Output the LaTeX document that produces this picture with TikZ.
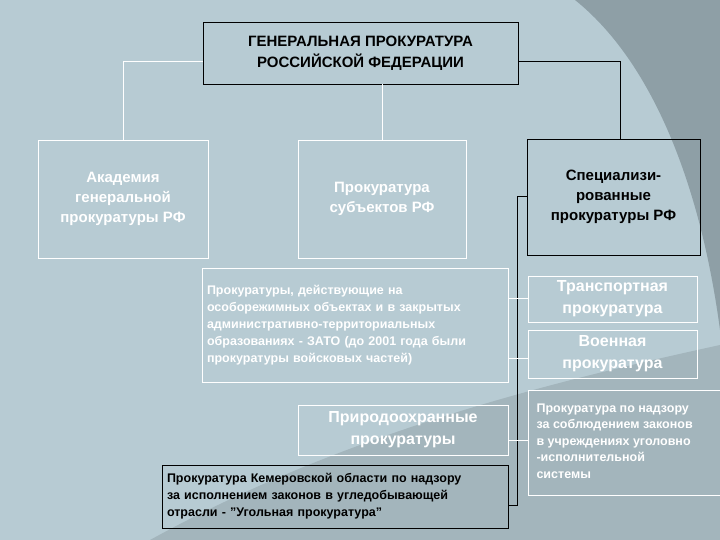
\documentclass[tikz,border=0pt]{standalone}
\usepackage{fontspec}
\setmainfont{Liberation Sans}
\begin{document}
\begin{tikzpicture}[x=1pt,y=-1pt,
  wbox/.style={draw=white,line width=0.8pt,text=white,align=center,inner sep=0pt},
  bbox/.style={draw=black,line width=0.8pt,text=black,align=center,inner sep=0pt},
  wline/.style={draw=white,line width=0.8pt},
  bline/.style={draw=black,line width=0.8pt}]
\definecolor{bgA}{HTML}{B7CBD3}
\definecolor{bgB}{HTML}{8E9FA6}
\definecolor{bgC}{HTML}{A3B5BC}
\fill[bgA] (0,0) rectangle (720,540);
\fill[bgC] (150,540) .. controls (350,430) and (560,380) .. (720,345) -- (720,540) -- cycle;
\fill[bgB] (575,0) .. controls (650,60) and (700,180) .. (720,330) -- (720,0) -- cycle;
\useasboundingbox (0,0) rectangle (720,540);

\node[bbox,minimum width=315pt,minimum height=62pt,font=\bfseries\fontsize{15}{21}\selectfont] (top) at (360.5,53) {ГЕНЕРАЛЬНАЯ ПРОКУРАТУРА\\РОССИЙСКОЙ ФЕДЕРАЦИИ};
\node[wbox,minimum width=170pt,minimum height=118pt,font=\bfseries\fontsize{15}{20}\selectfont] (acad) at (123,199) {Академия\\генеральной\\прокуратуры РФ};
\node[wbox,minimum width=168pt,minimum height=118pt,font=\bfseries\fontsize{15}{20}\selectfont] (subj) at (382,199) {Прокуратура\\субъектов РФ};
\node[bbox,minimum width=173pt,minimum height=116pt,font=\bfseries\fontsize{15}{20}\selectfont] (spec) at (613.5,197) {Специализи-\\рованные\\прокуратуры РФ};

\node[wbox,minimum width=306pt,minimum height=114pt,align=left,text width=296pt,font=\bfseries\fontsize{12.5}{17}\selectfont] (zato) at (355,325) {Прокуратуры, действующие на\\особорежимных объектах и в закрытых\\административно-территориальных\\образованиях - ЗАТО (до 2001 года были\\прокуратуры войсковых частей)};
\node[wbox,minimum width=169pt,minimum height=46pt,font=\bfseries\fontsize{16}{22}\selectfont] (trans) at (612.5,299) {Транспортная\\прокуратура};
\node[wbox,minimum width=169pt,minimum height=48pt,font=\bfseries\fontsize{16}{22}\selectfont] (voen) at (612.5,354) {Военная\\прокуратура};
\node[inner sep=0pt,minimum width=192pt,minimum height=105pt] (pen) at (624,442.5) {};
\draw[white,line width=0.8pt] (720,390) -- (528,390) -- (528,495) -- (720,495);
\node[text=white,align=left,anchor=north west,font=\bfseries\fontsize{12.5}{16.5}\selectfont] at (533,400) {Прокуратура по надзору\\за соблюдением законов\\в учреждениях уголовно\\-исполнительной\\системы};
\node[wbox,minimum width=210pt,minimum height=50pt,font=\bfseries\fontsize{16}{22}\selectfont] (nat) at (403,430) {Природоохранные\\прокуратуры};
\node[bbox,minimum width=346pt,minimum height=63pt,align=left,text width=336pt,font=\bfseries\fontsize{12.5}{17}\selectfont] (coal) at (335,496.5) {Прокуратура Кемеровской области по надзору\\за исполнением законов в угледобывающей\\отрасли - "Угольная прокуратура"};

\coordinate (tl) at (123,61);
\coordinate (tr) at (620,61);
\coordinate (tc) at (382,84);
\draw[wline] (top.west |- tl) -- (tl) -- (acad.north);
\draw[wline] (tc) -- (subj.north);
\draw[bline] (top.east |- tr) -- (tr) -- (spec.north -| tr);
\coordinate (vt) at (517,196);
\coordinate (vb) at (517,505);
\draw[bline] (spec.west |- vt) -- (vt) -- (vb) -- (coal.east |- vb);
\draw[wline] (zato.east |- 0,298) -- (trans.west |- 0,298);
\draw[wline] (zato.east |- 0,358) -- (voen.west |- 0,358);
\draw[wline] (nat.east |- 0,440) -- (pen.west |- 0,440);
\end{tikzpicture}
\end{document}
